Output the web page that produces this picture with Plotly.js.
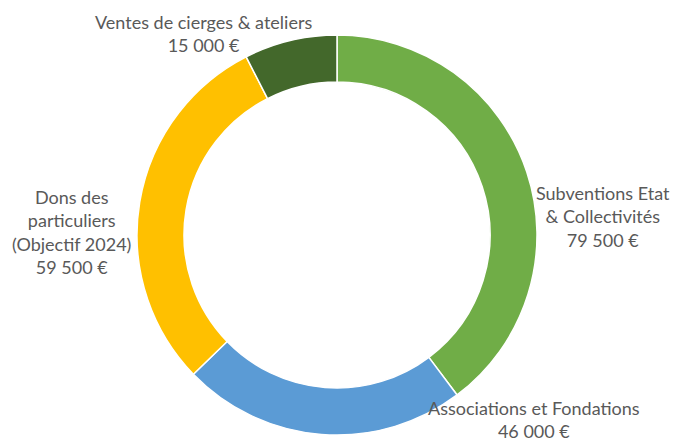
<!DOCTYPE html>
<html>
<head>
<meta charset="utf-8">
<script src="https://cdn.plot.ly/plotly-3.0.1.min.js"></script>
<style>
html,body{margin:0;padding:0;background:#fff;}
#chart{width:673px;height:444px;}
</style>
</head>
<body>
<div id="chart"></div>
<script>
const categories = ["Subventions Etat & Collectivités", "Associations et Fondations", "Dons des particuliers (Objectif 2024)", "Ventes de cierges & ateliers"];
const values = [79500, 46000, 59500, 15000];
const colors = ["#70AD47", "#5B9BD5", "#FFC000", "#43682B"];
const labelLines = [
  ["Subventions Etat", "& Collectivités"],
  ["Associations et Fondations"],
  ["Dons des", "particuliers", "(Objectif 2024)"],
  ["Ventes de cierges & ateliers"]
];

function fmt(v){
  return String(v).replace(/\B(?=(\d{3})+(?!\d))/g, "\u00a0") + "\u00a0€";
}

const W = 673, H = 444;
// label anchor positions (pixels, center of text block)
const labelPos = [
  {x: 603, y: 216},
  {x: 534, y: 419},
  {x: 71, y: 232},
  {x: 203, y: 33}
];

const annotations = categories.map((c, i) => ({
  xref: "paper", yref: "paper",
  x: labelPos[i].x / W, y: 1 - labelPos[i].y / H,
  xanchor: "center", yanchor: "middle",
  showarrow: false, align: "center",
  text: labelLines[i].concat([fmt(values[i])]).join("<br>"),
  font: {family: "Lato, 'Open Sans', sans-serif", size: 18, color: "#595959"}
}));

const cx = 337, cy = 235, R = 200;
const trace = {
  type: "pie",
  labels: categories,
  values: values,
  marker: {colors: colors, line: {color: "#ffffff", width: 1.5}},
  hole: 0.765,
  sort: false,
  direction: "clockwise",
  rotation: 0,
  textinfo: "none",
  hoverinfo: "skip",
  showlegend: false,
  domain: {x: [(cx - R) / W, (cx + R) / W], y: [1 - (cy + R) / H, 1 - (cy - R) / H]}
};

Plotly.newPlot("chart", [trace], {
  width: W, height: H,
  margin: {l: 0, r: 0, t: 0, b: 0},
  paper_bgcolor: "#ffffff",
  showlegend: false,
  annotations: annotations
}, {staticPlot: true, displayModeBar: false});
</script>
</body>
</html>
